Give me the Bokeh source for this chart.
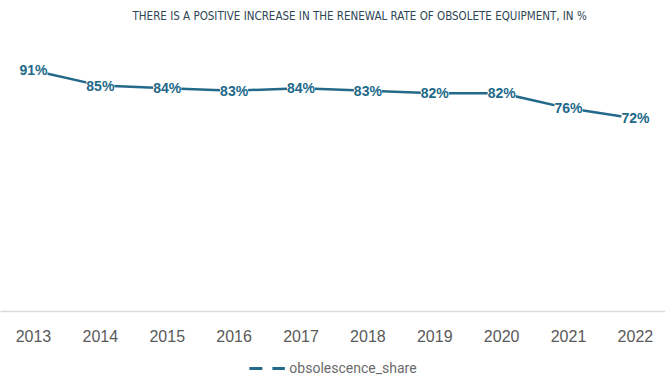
from bokeh.plotting import figure
from bokeh.layouts import column
from bokeh.models import ColumnDataSource, LabelSet, Legend, LegendItem, FixedTicker, Range1d
from bokeh.core.properties import value
from bokeh.embed import file_html
from bokeh.resources import INLINE

years = [2013, 2014, 2015, 2016, 2017, 2018, 2019, 2020, 2021, 2022]
share = [91, 85, 84, 83, 84, 83, 82, 82, 76, 72]
labels = [f"{v}%" for v in share]
title_text = "THERE IS A POSITIVE INCREASE IN THE RENEWAL RATE OF OBSOLETE EQUIPMENT, IN %"
series_name = "obsolescence_share"

COLOR = "#22698a"

src = ColumnDataSource(dict(x=years, y=share, lbl=labels))

p = figure(frame_width=665, frame_height=283,
           output_backend="svg", toolbar_location=None,
           x_range=Range1d(2012.507, 2022.45), y_range=Range1d(-4.4, 107.6),
           min_border_left=0, min_border_right=0, min_border_top=0, min_border_bottom=0,
           background_fill_color="white", border_fill_color="white", outline_line_color=None)

p.title.text = title_text
p.title.align = "left"
p.title.text_font = "DejaVu Sans Condensed"
p.title.text_font_size = "11.5px"
p.title.text_font_style = "normal"
p.title.text_color = "#2d4656"
p.title.offset = 132
p.title.standoff = 12

p.grid.visible = False
p.yaxis.visible = False
xa = p.xaxis[0]
xa.ticker = FixedTicker(ticks=years)
xa.major_tick_line_color = None
xa.minor_tick_line_color = None
xa.axis_line_color = "#d9d9d9"
xa.axis_line_width = 1.5
xa.major_label_text_font = "Liberation Sans"
xa.major_label_text_font_size = "16px"
xa.major_label_text_color = "#595959"
xa.major_label_standoff = 12

p.line("x", "y", source=src, line_color=COLOR, line_width=2.5)

lbls = LabelSet(x="x", y="y", text="lbl", source=src, text_align="center", text_baseline="middle",
                text_font=value("Liberation Sans"), text_font_size="14px", text_font_style="bold",
                text_color=COLOR, background_fill_color="white")
p.add_layout(lbls)

# Legend strip below the axis
q = figure(width=665, height=34, output_backend="svg", toolbar_location=None,
           x_axis_type=None, y_axis_type=None,
           x_range=Range1d(2012.507, 2022.45), y_range=Range1d(0, 1),
           min_border_left=0, min_border_right=0, min_border_top=0, min_border_bottom=0,
           background_fill_color="white", border_fill_color="white", outline_line_color=None)
q.grid.visible = False
dummy = q.line("x", "y", source=src, line_color=COLOR, line_width=3, line_dash="13 10", visible=False)
legend = Legend(items=[LegendItem(label=series_name, renderers=[dummy])],
                location="bottom", orientation="horizontal", border_line_color=None,
                background_fill_alpha=0, inactive_fill_alpha=0,
                label_text_font="Roboto", label_text_font_size="14px", label_text_color="#6b6b6b",
                glyph_width=36, glyph_height=14, label_height=14, label_standoff=5,
                padding=0, margin=2, spacing=6)
q.add_layout(legend)

layout = column(p, q, spacing=0)
open("out.html", "w").write(file_html(layout, INLINE))
